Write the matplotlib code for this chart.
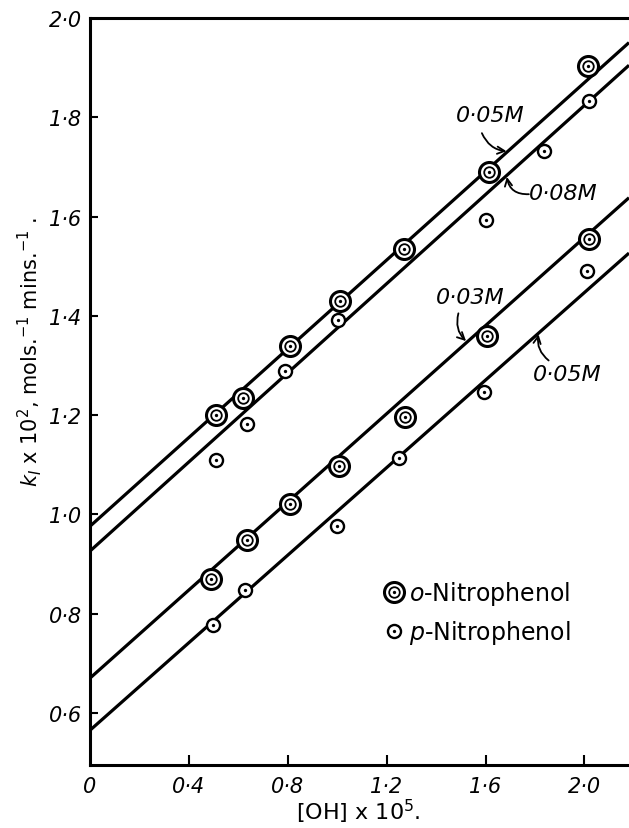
import matplotlib
matplotlib.use("Agg")
import matplotlib.pyplot as plt
import numpy as np
from matplotlib.lines import Line2D
from matplotlib.legend_handler import HandlerTuple

# ---- data ----
o_upper_x = [0.51, 0.62, 0.81, 1.01, 1.27, 1.615, 2.013]
o_upper_y = [1.200, 1.235, 1.340, 1.430, 1.534, 1.690, 1.903]
p_upper_x = [0.508, 0.634, 0.79, 1.002, 1.601, 1.837, 2.017]
p_upper_y = [1.109, 1.182, 1.289, 1.391, 1.593, 1.733, 1.833]

o_lower_x = [0.49, 0.636, 0.809, 1.007, 1.273, 1.607, 2.02]
o_lower_y = [0.870, 0.949, 1.020, 1.098, 1.196, 1.359, 1.554]
p_lower_x = [0.497, 0.627, 0.997, 1.25, 1.592, 2.01]
p_lower_y = [0.778, 0.848, 0.976, 1.114, 1.247, 1.490]

# fitted straight lines: (intercept, slope)
line_names = ["0·05M", "0·08M", "0·03M", "0·05M"]
line_intercepts = [0.976, 0.926, 0.670, 0.565]
line_slopes = [0.447, 0.449, 0.444, 0.441]

x_ticks = [0, 0.4, 0.8, 1.2, 1.6, 2.0]
x_tick_labels = ["0", "0·4", "0·8", "1·2", "1·6", "2·0"]
y_ticks = [0.6, 0.8, 1.0, 1.2, 1.4, 1.6, 1.8, 2.0]
y_tick_labels = ["0·6", "0·8", "1·0", "1·2", "1·4", "1·6", "1·8", "2·0"]

XMAX = 2.18
YMIN, YMAX = 0.495, 2.0

fig = plt.figure(figsize=(6.29, 8.29), dpi=100)
ax = fig.add_axes([90 / 629, 1 - 766 / 829, 1 - 90 / 629, (766 - 19) / 829])
ax.set_xlim(0, XMAX)
ax.set_ylim(YMIN, YMAX)

LW = 2.3
for sp in ["left", "bottom", "top"]:
    ax.spines[sp].set_linewidth(2.2)
ax.spines["right"].set_visible(False)

# lines
xs = np.array([0, XMAX])
for b, m in zip(line_intercepts, line_slopes):
    ax.plot(xs, b + m * xs, color="black", lw=LW, solid_capstyle="butt", zorder=2)

O_OUT = dict(ls="none", marker="o", ms=14.4, mew=2.2, mfc="white", mec="black")
O_IN = dict(ls="none", marker="o", ms=7.6, mew=1.3, mfc="white", mec="black")
DOT = dict(ls="none", marker="o", ms=2.4, mew=0, mfc="black")
P_RING = dict(ls="none", marker="o", ms=9.4, mew=1.7, mfc="white", mec="black")


def o_markers(x, y):
    ax.plot(x, y, zorder=3, **O_OUT)
    ax.plot(x, y, zorder=4, **O_IN)
    ax.plot(x, y, zorder=5, **DOT)


def p_markers(x, y):
    ax.plot(x, y, zorder=3, **P_RING)
    ax.plot(x, y, zorder=5, **DOT)


o_markers(o_upper_x, o_upper_y)
p_markers(p_upper_x, p_upper_y)
o_markers(o_lower_x, o_lower_y)
p_markers(p_lower_x, p_lower_y)

# ticks
tick_font = dict(family="DejaVu Sans", style="italic", size=15)
ax.set_xticks(x_ticks)
ax.set_xticklabels(x_tick_labels, fontdict=tick_font)
ax.set_yticks(y_ticks)
ax.set_yticklabels(y_tick_labels, fontdict=tick_font)
ax.tick_params(axis="x", direction="in", length=7, width=1.5, pad=8)
ax.tick_params(axis="y", direction="in", length=6, width=1.5, pad=6)
ax.xaxis.get_major_ticks()[0].tick1line.set_visible(False)
ax.yaxis.get_major_ticks()[-1].tick1line.set_visible(False)

# axis labels
fig.text(358 / 629, 1 - 812 / 829, r"[OH] x 10$^{5}$.", ha="center", va="center",
         fontsize=16, family="DejaVu Sans")
fig.text(30 / 629, 1 - 352 / 829,
         r"$\mathit{k}_{\mathit{I}}$ x 10$^{2}$, mols.$^{-1}$ mins.$^{-1}$ .",
         rotation=90, ha="center", va="center", fontsize=15, family="DejaVu Sans")

# line annotations
ann_font = dict(fontsize=16, style="italic", family="DejaVu Sans")
ann = [
    # text, text xy, arrow target x, line index, arrow start, rad
    ("0·05M", (1.62, 1.805), 1.69, 0, (1.585, 1.768), 0.3),
    ("0·08M", (1.915, 1.648), 1.685, 1, (1.775, 1.645), -0.45),
    ("0·03M", (1.54, 1.437), 1.525, 2, (1.49, 1.405), 0.3),
    ("0·05M", (1.93, 1.282), 1.815, 3, (1.855, 1.31), -0.3),
]
for txt, (tx, ty), axx, li, start, rad in ann:
    ay = line_intercepts[li] + line_slopes[li] * axx
    ax.text(tx, ty, txt, ha="center", va="center", **ann_font)
    ax.annotate("", xy=(axx, ay), xytext=start,
                arrowprops=dict(arrowstyle="->", color="black", lw=1.3,
                                connectionstyle=f"arc3,rad={rad}", shrinkA=0, shrinkB=1,
                                mutation_scale=13))

# legend
o_handle = (Line2D([], [], **O_OUT), Line2D([], [], **O_IN), Line2D([], [], **DOT))
p_handle = (Line2D([], [], **P_RING), Line2D([], [], **DOT))
leg = ax.legend([o_handle, p_handle],
                [r"$\mathit{o}$-Nitrophenol", r"$\mathit{p}$-Nitrophenol"],
                handler_map={tuple: HandlerTuple(ndivide=1)},
                loc="center left", bbox_to_anchor=(0.505, 0.204), frameon=False,
                prop=dict(family="DejaVu Sans", size=17), handlelength=0.9,
                handletextpad=0.2, labelspacing=0.48)

fig.savefig("out.png", dpi=100)
